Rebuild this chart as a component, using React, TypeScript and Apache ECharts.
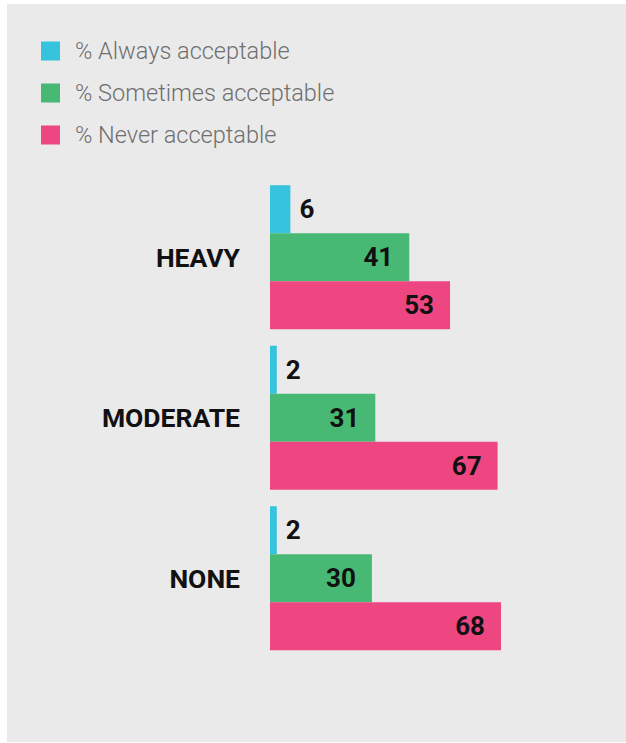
import React, { useEffect, useRef } from "react";
import * as echarts from "echarts";

const categories = ["HEAVY", "MODERATE", "NONE"];
const seriesNames = ["% Always acceptable", "% Sometimes acceptable", "% Never acceptable"];
const alwaysValues = [6, 2, 2];
const sometimesValues = [41, 31, 30];
const neverValues = [53, 67, 68];
const colors = ["#35c3de", "#48b974", "#ee4681"];

export default function App() {
  const ref = useRef<HTMLDivElement>(null);
  useEffect(() => {
    if (!ref.current) return;
    const chart = echarts.init(ref.current, undefined, { renderer: "svg" });
    const numFont = {
      fontFamily: "Roboto",
      fontWeight: "bold" as const,
      fontSize: 26,
      color: "#111111",
    };
    const makeSeries = (i: number, data: number[]) => ({
      name: seriesNames[i],
      type: "bar" as const,
      data,
      barWidth: 48,
      barGap: "0%",
      itemStyle: { color: colors[i] },
      label: {
        show: true,
        position: i === 0 ? "right" : "insideRight",
        distance: i === 0 ? 9 : 16,
        ...numFont,
      },
    });
    chart.setOption({
      animation: false,
      backgroundColor: "#ffffff",
      graphic: [
        {
          type: "rect",
          z: -10,
          silent: true,
          shape: { x: 7, y: 4, width: 619, height: 738 },
          style: { fill: "#eaeaea" },
        },
      ],
      legend: {
        orient: "vertical",
        left: 41,
        top: 39,
        padding: 0,
        itemWidth: 19,
        itemHeight: 19,
        itemGap: 18,
        icon: "rect",
        data: seriesNames,
        textStyle: {
          fontFamily: "Roboto",
          fontWeight: 300,
          fontSize: 23.5,
          lineHeight: 19,
          color: "#6f6f6f",
          padding: [0, 0, 0, 10],
        },
      },
      grid: { left: 270, width: 339.7, top: 177, height: 481.5 },
      xAxis: {
        type: "value",
        min: 0,
        max: 100,
        show: false,
        splitLine: { show: false },
      },
      yAxis: {
        type: "category",
        data: categories,
        inverse: true,
        axisLine: { show: false },
        axisTick: { show: false },
        splitLine: { show: false },
        axisLabel: {
          margin: 30,
          fontFamily: "Roboto",
          fontWeight: "bold",
          fontSize: 26.5,
          color: "#111111",
        },
      },
      series: [
        makeSeries(0, alwaysValues),
        makeSeries(1, sometimesValues),
        makeSeries(2, neverValues),
      ],
    });
    return () => chart.dispose();
  }, []);
  return (
    <div
      ref={ref}
      style={{ position: "absolute", left: 0, top: 0, width: 626, height: 743 }}
    />
  );
}
